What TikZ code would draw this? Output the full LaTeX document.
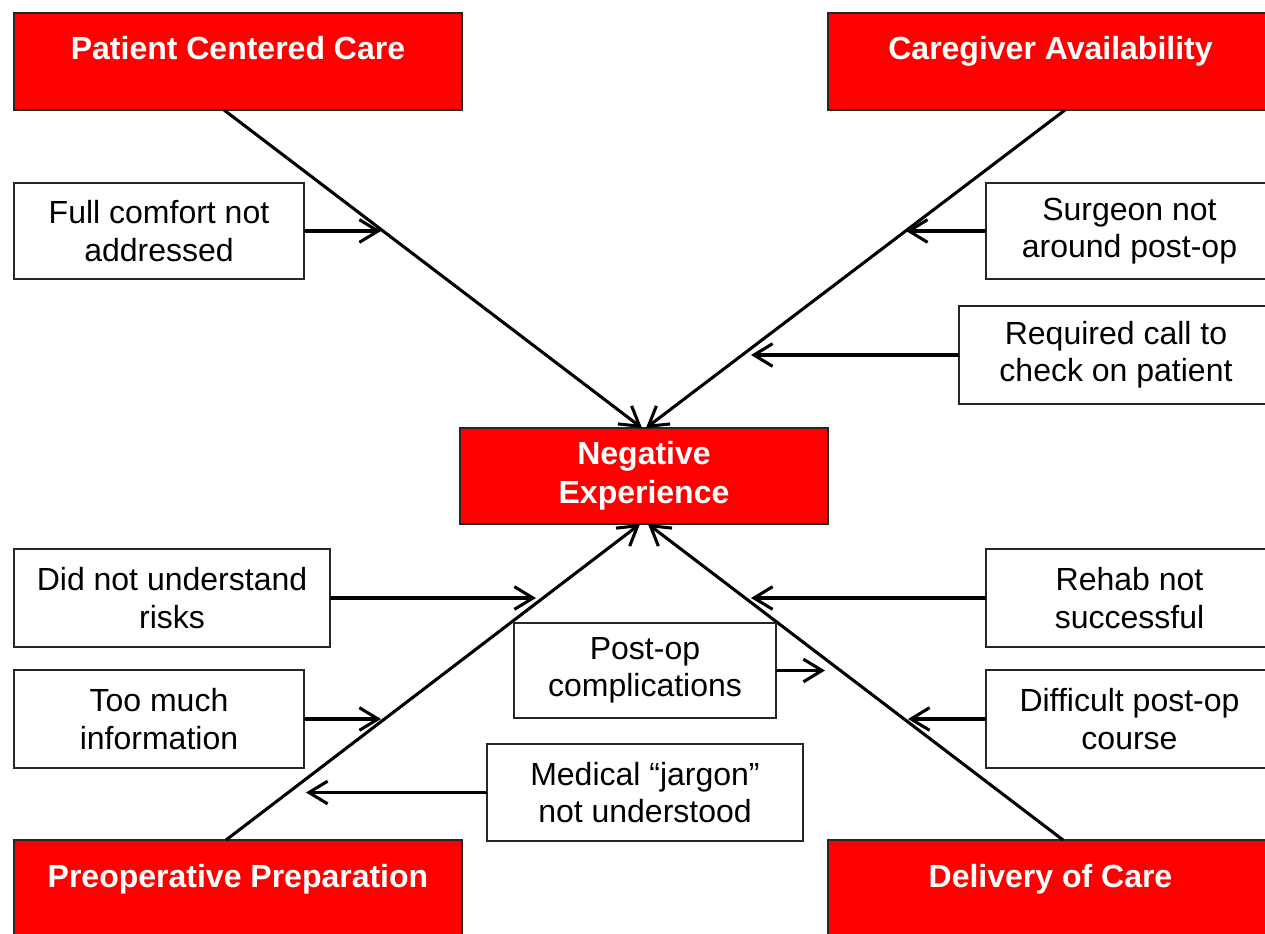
\documentclass[tikz,border=0pt]{standalone}
\usepackage{fontspec}
\setmainfont{Liberation Sans}
\usetikzlibrary{arrows.meta,calc}
\begin{document}
\begin{tikzpicture}[x=0.75pt,y=-0.75pt,
  boxbase/.style={draw=black!85, line width=0.9pt, inner sep=0pt, outer sep=0pt, anchor=north west, align=center},
  redbox/.style={boxbase, fill=red, text=white, font=\fontsize{24}{28}\selectfont\bfseries},
  toptext/.style={text height=34.5pt, text depth=38.25pt},
  bottext/.style={text height=35.25pt, text depth=45pt},
  wbox/.style={boxbase, fill=white, text=black, font=\fontsize{24}{28}\selectfont},
  spine/.style={line width=2.3pt, draw=black, -{Straight Barb[length=14pt,width=17pt,line width=2.3pt]}},
  cause/.style={line width=2.3pt, draw=black, -{Straight Barb[length=14pt,width=17pt,line width=2.3pt]}}
]
\useasboundingbox (0,0) rectangle (1265,933);
\clip (0,0) rectangle (1265,933);

% main red boxes
\node[redbox, toptext, minimum width=336pt] (pcc) at (14,13) {Patient Centered Care};
\node[redbox, toptext, minimum width=333.75pt] (cga) at (828,13) {Caregiver Availability};
\node[redbox, bottext, minimum width=336pt] (ppp) at (14,840) {Preoperative Preparation};
\node[redbox, bottext, minimum width=333.75pt] (doc) at (828,840) {Delivery of Care};
\node[redbox, minimum width=276pt, minimum height=72pt] (neg) at (460,428) {Negative\\[1pt]Experience};

% spines
\draw[spine] ([xshift=-10.5pt]pcc.south) -- ([xshift=-1.5pt]neg.north);
\draw[spine] ([xshift=10.9pt]cga.south) -- ([xshift=1.5pt]neg.north);
\draw[spine] ([xshift=-9pt]ppp.north) -- ([xshift=-3pt]neg.south);
\draw[spine] ([xshift=9.4pt]doc.north) -- ([xshift=3pt]neg.south);

% cause boxes
\node[wbox, minimum width=217.5pt, minimum height=72pt] (fc) at (14,183) {Full comfort not\\addressed};
\node[wbox, minimum width=215.25pt, minimum height=72pt] (sg) at (986,183) {Surgeon not\\around post-op};
\node[wbox, minimum width=235.5pt, minimum height=73.5pt] (rc) at (959,306) {Required call to\\check on patient};
\node[wbox, minimum width=237pt, minimum height=73.5pt] (dn) at (14,549) {Did not understand\\risks};
\node[wbox, minimum width=196.5pt, minimum height=71.25pt] (po) at (514,623) {Post-op\\complications};
\node[wbox, minimum width=215.25pt, minimum height=73.5pt] (rb) at (986,549) {Rehab not\\successful};
\node[wbox, minimum width=217.5pt, minimum height=73.5pt] (tm) at (14,670) {Too much\\information};
\node[wbox, minimum width=215.25pt, minimum height=73.5pt] (dp) at (986,670) {Difficult post-op\\course};
\node[wbox, minimum width=237pt, minimum height=72.75pt] (mj) at (487,744) {Medical “jargon”\\not understood};

% arrow tips on the spines
\coordinate (t-fc) at (381,232);
\coordinate (t-sg) at (906,232);
\coordinate (t-rc) at (751,353);
\coordinate (t-dn) at (536,597);
\coordinate (t-rb) at (751,597);
\coordinate (t-po) at (825,669);
\coordinate (t-tm) at (381,718);
\coordinate (t-dp) at (908,718);
\coordinate (t-mj) at (306,791);

\draw[cause] (fc.east) -- (fc.east -| t-fc);
\draw[cause] (sg.west) -- (sg.west -| t-sg);
\draw[cause] (rc.west) -- (rc.west -| t-rc);
\draw[cause] (dn.east) -- (dn.east -| t-dn);
\draw[cause] (rb.west) -- (rb.west -| t-rb);
\draw[cause] (po.east) -- (po.east -| t-po);
\draw[cause] (tm.east) -- (tm.east -| t-tm);
\draw[cause] (dp.west) -- (dp.west -| t-dp);
\draw[cause] (mj.west) -- (mj.west -| t-mj);
\end{tikzpicture}
\end{document}
